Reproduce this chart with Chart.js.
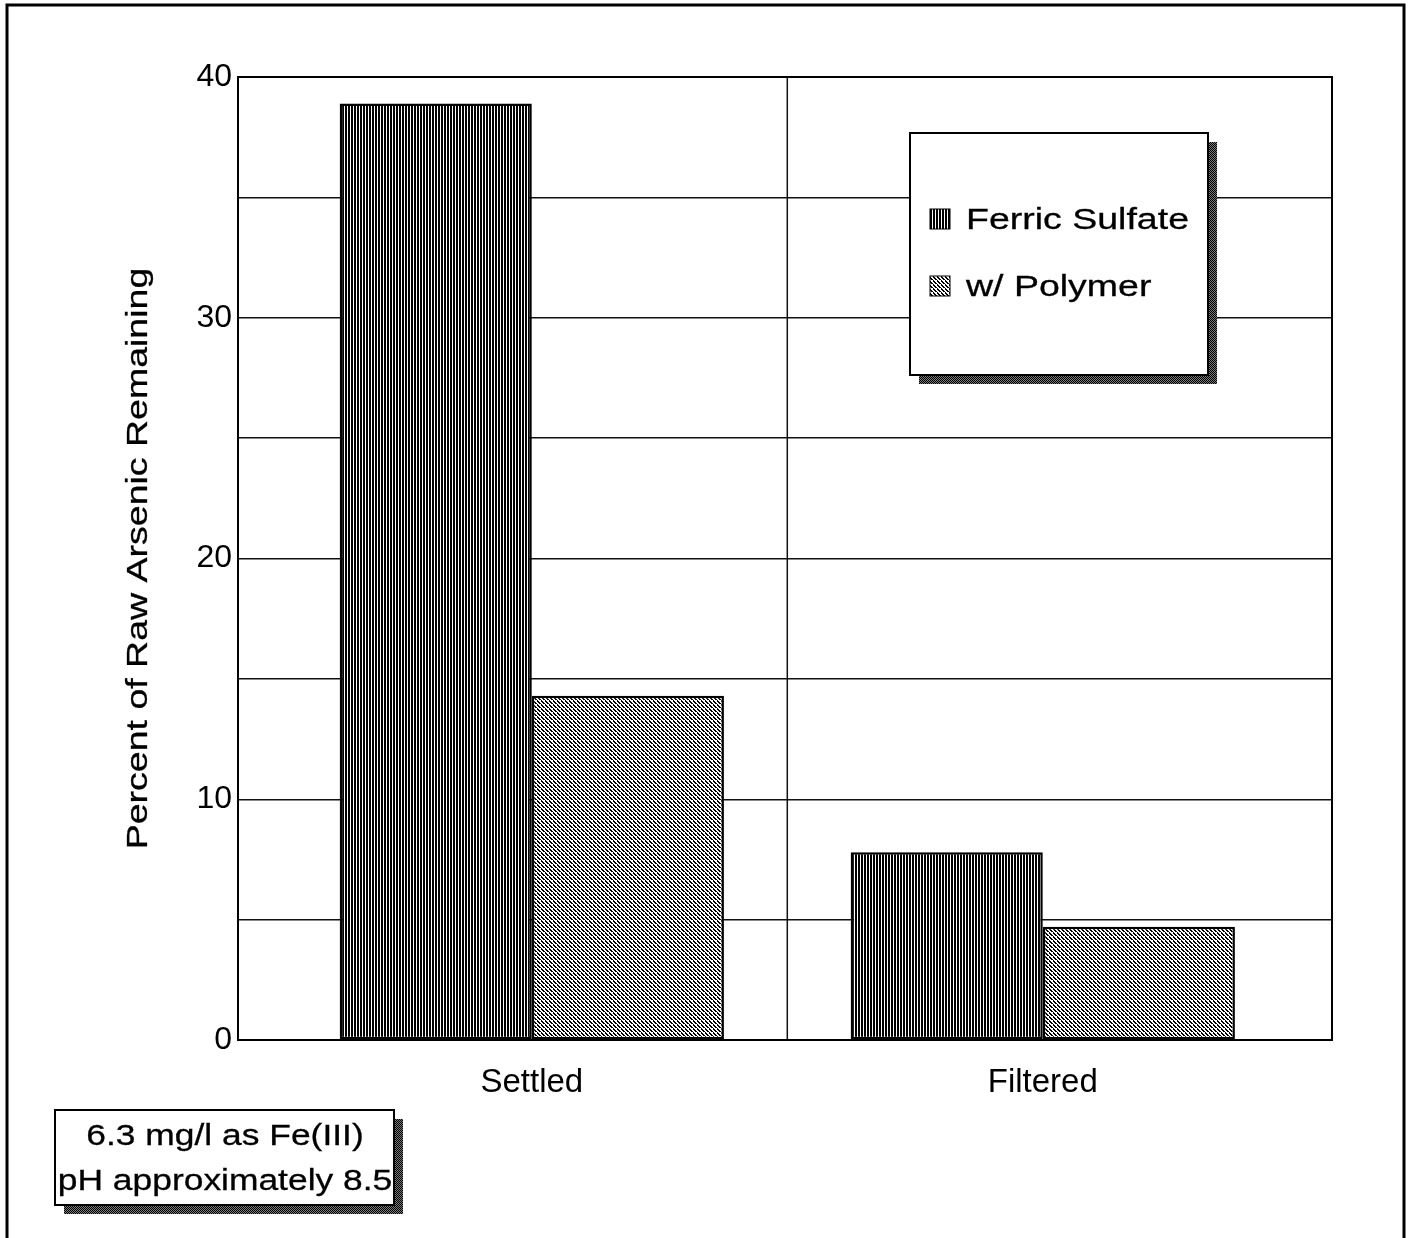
<!DOCTYPE html>
<html>
<head>
<meta charset="utf-8">
<script src="https://cdn.jsdelivr.net/npm/chart.js@4.4.1/dist/chart.umd.min.js"></script>
<style>
  html, body { margin: 0; padding: 0; background: #fff; }
  #c { display: block; }
</style>
</head>
<body>
<canvas id="c" width="1411" height="1238"></canvas>
<script>
const categories = ['Settled', 'Filtered'];
const seriesNames = ['Ferric Sulfate', 'w/ Polymer'];
const ferric = [38.9, 7.8];
const polymer = [14.3, 4.7];
const yTicks = [0, 5, 10, 15, 20, 25, 30, 35, 40];
const yLabelled = [0, 10, 20, 30, 40];
const yTitle = 'Percent of Raw Arsenic Remaining';
const noteLines = ['6.3 mg/l as Fe(III)', 'pH approximately 8.5'];

const FONT = '"Liberation Sans", Arial, Helvetica, sans-serif';
const INK = '#000';

const canvas = document.getElementById('c');
const ctx0 = canvas.getContext('2d');

// small bitmap patterns like the old printer fills
function makePattern(w, h, isInk, ink = '#000', paper = '#fff') {
    const c = document.createElement('canvas');
    c.width = w; c.height = h;
    const g = c.getContext('2d');
    g.fillStyle = paper; g.fillRect(0, 0, w, h);
    g.fillStyle = ink;
    for (let y = 0; y < h; y++)
        for (let x = 0; x < w; x++)
            if (isInk(x, y)) g.fillRect(x, y, 1, 1);
    return ctx0.createPattern(c, 'repeat');
}

const stripes = makePattern(3, 1, x => x % 3 !== 2);
const hatch = makePattern(4, 4, (x, y) => ((x - y + 8) % 4) < 2 && !(x === 0 && y === 0));
const shade = makePattern(2, 2, (x, y) => (x + y) % 2 === 0, '#000', '#777');
const fills = [stripes, hatch];

// text drawn a bit wide, the scan is stretched horizontally
function wideText(ctx, str, x, y, size, align, stretch = 1.2) {
    ctx.save();
    ctx.translate(x, y);
    ctx.scale(stretch, 1);
    ctx.font = `${size}px ${FONT}`;
    ctx.fillStyle = INK;
    ctx.strokeStyle = INK;
    ctx.lineWidth = 0.3;
    ctx.textAlign = align;
    ctx.textBaseline = 'alphabetic';
    ctx.fillText(str, 0, 0);
    ctx.strokeText(str, 0, 0);
    ctx.restore();
}

function shadowBox(ctx, l, t, w, h, off) {
    ctx.save();
    ctx.fillStyle = shade;
    ctx.fillRect(l + off, t + off, w, h);
    ctx.fillStyle = '#fff';
    ctx.fillRect(l, t, w, h);
    ctx.strokeStyle = INK;
    ctx.lineWidth = 2;
    ctx.strokeRect(l, t, w, h);
    ctx.restore();
}

const decor = {
    id: 'decor',
    beforeDraw(chart) {
        const ctx = chart.ctx;
        ctx.save();
        ctx.strokeStyle = INK;
        ctx.lineWidth = 3;
        ctx.strokeRect(7, 5, 1397, 1250);
        ctx.restore();
    },
    beforeDatasetsDraw(chart) {
        // divider between the two groups
        const ctx = chart.ctx;
        const x = chart.scales.x.getPixelForValue((categories.length - 1) / 2);
        const { top, bottom } = chart.chartArea;
        ctx.save();
        ctx.strokeStyle = '#111';
        ctx.lineWidth = 1.5;
        ctx.beginPath();
        ctx.moveTo(x, top);
        ctx.lineTo(x, bottom);
        ctx.stroke();
        ctx.restore();
    },
    afterDraw(chart) {
        const ctx = chart.ctx;
        const a = chart.chartArea;

        ctx.save();
        ctx.strokeStyle = INK;
        ctx.lineWidth = 2;
        ctx.strokeRect(a.left, a.top, a.right - a.left, a.bottom - a.top);
        ctx.restore();

        // y axis title
        ctx.save();
        ctx.translate(147, (a.top + a.bottom) / 2);
        ctx.rotate(-Math.PI / 2);
        wideText(ctx, yTitle, 0, 0, 30, 'center', 1.25);
        ctx.restore();

        // legend
        shadowBox(ctx, 910, 133, 298, 242, 9);
        seriesNames.forEach((name, i) => {
            const base = 229 + i * 67;
            ctx.save();
            ctx.fillStyle = fills[i];
            ctx.fillRect(930, base - 20, 20, 20);
            ctx.strokeStyle = INK;
            ctx.lineWidth = 1;
            ctx.strokeRect(930, base - 20, 20, 20);
            ctx.restore();
            wideText(ctx, name, 966, base, 30, 'left', 1.25);
        });

        // note box
        shadowBox(ctx, 55, 1110, 339, 95, 9);
        noteLines.forEach((line, i) => {
            wideText(ctx, line, 225, 1145 + i * 45, 30, 'center', 1.18);
        });
    }
};

new Chart(canvas, {
    type: 'bar',
    data: {
        datasets: [
            {
                label: seriesNames[0],
                data: ferric.map((v, i) => ({ x: i, y: v })),
                backgroundColor: stripes,
            },
            {
                label: seriesNames[1],
                data: polymer.map((v, i) => ({ x: i, y: v })),
                backgroundColor: hatch,
            },
        ],
    },
    options: {
        responsive: false,
        animation: false,
        devicePixelRatio: 1,
        layout: { padding: { left: 0, top: 77, right: 79, bottom: 0 } },
        datasets: {
            bar: {
                barPercentage: 1,
                categoryPercentage: 0.752,
                borderColor: INK,
                borderWidth: 2.5,
                borderSkipped: false,
            },
        },
        plugins: {
            legend: { display: false },
            tooltip: { enabled: false },
        },
        scales: {
            x: {
                type: 'linear',
                offset: false,
                min: -0.575,
                max: categories.length - 1 + 0.566,
                afterBuildTicks: s => { s.ticks = categories.map((_, i) => ({ value: i })); },
                afterFit: s => { s.height = 198; },
                ticks: {
                    callback: v => categories[v] ?? '',
                    font: { family: FONT, size: 33 },
                    color: INK,
                    padding: 23,
                    maxRotation: 0,
                    autoSkip: false,
                },
                grid: { display: false, drawTicks: false, offset: false },
                border: { display: true, color: INK, width: 2 },
            },
            y: {
                min: 0,
                max: 40,
                afterBuildTicks: s => { s.ticks = yTicks.map(v => ({ value: v })); },
                afterFit: s => { s.width = 238; },
                ticks: {
                    callback: v => yLabelled.includes(v) ? v : '',
                    font: { family: FONT, size: 32 },
                    color: INK,
                    padding: 6,
                    autoSkip: false,
                },
                grid: { color: '#111', lineWidth: 1.5, drawTicks: false },
                border: { display: true, color: INK, width: 2 },
            },
        },
    },
    plugins: [decor],
});
</script>
</body>
</html>
